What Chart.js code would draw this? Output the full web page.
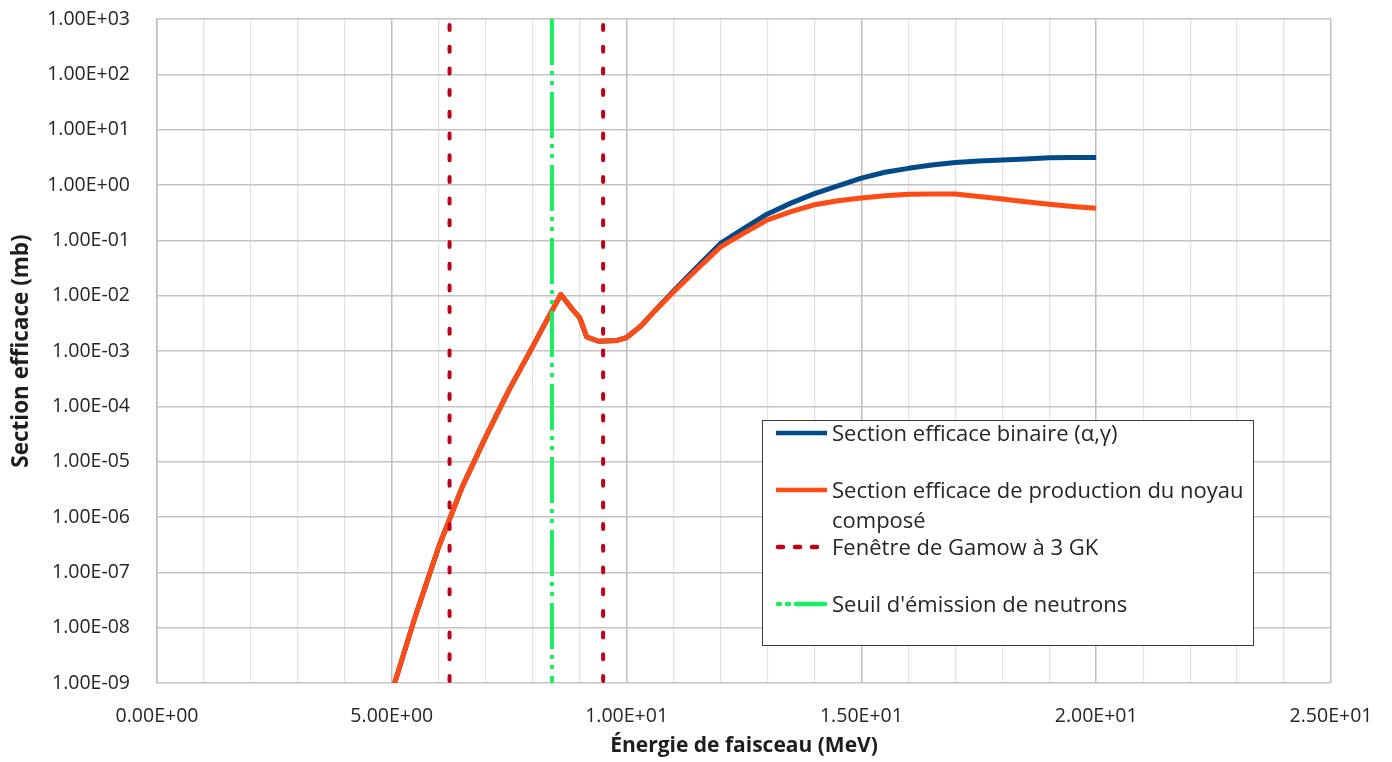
<!DOCTYPE html>
<html lang="fr">
<head>
<meta charset="utf-8">
<title>Section efficace en fonction de l'énergie de faisceau</title>
<script src="https://cdn.jsdelivr.net/npm/chart.js@4/dist/chart.umd.min.js"></script>
<style>
  html, body { margin: 0; padding: 0; background: #ffffff; }
  #wrap { position: relative; width: 1392px; height: 762px; overflow: hidden; }
  #chart { position: absolute; left: 0; top: 0; }
  #legend-box {
    position: absolute; left: 762px; top: 420px; width: 490px; height: 224px;
    border: 1.5px solid #3a3a3a; background: #ffffff;
  }
  .lg-sample { position: absolute; left: 774px; width: 56px; height: 10px; }
  .lg-text {
    position: absolute; left: 832px; white-space: nowrap;
    font-family: 'Open Sans', sans-serif; font-size: 22px; line-height: 30px; color: #262626;
  }
</style>
</head>
<body>
<div id="wrap">
  <canvas id="chart" width="1392" height="762"></canvas>
  <div id="legend-box"></div>
</div>
<script>
// Beam energy grid (MeV)
const energy = [5.0, 5.5, 6.0, 6.5, 7.0, 7.5, 8.0, 8.25, 8.6, 8.85, 9.0, 9.15, 9.4, 9.8, 10.0, 10.3, 10.6,
                11.0, 11.5, 12.0, 12.5, 13.0, 13.5, 14.0, 14.5, 15.0, 15.5, 16.0, 16.5, 17.0, 17.5, 18.0, 18.5, 19.0, 19.5, 20.0];

// Binary (alpha,gamma) cross section (mb)
const sigmaBinary = [6.8e-10, 1.6e-8, 2.9e-7, 3.5e-6, 2.8e-5, 2.0e-4, 1.2e-3, 3.0e-3, 1.05e-2, 5.6e-3, 4.0e-3, 1.8e-3, 1.5e-3, 1.55e-3, 1.75e-3, 2.8e-3, 5.3e-3,
                     1.22e-2, 3.3e-2, 8.8e-2, 0.165, 0.30, 0.47, 0.70, 0.96, 1.33, 1.70, 2.0, 2.3, 2.55, 2.72, 2.82, 2.95, 3.1, 3.15, 3.15];

// Compound nucleus production cross section (mb)
const sigmaCompound = [6.8e-10, 1.6e-8, 2.9e-7, 3.5e-6, 2.8e-5, 2.0e-4, 1.2e-3, 3.0e-3, 1.05e-2, 5.6e-3, 4.0e-3, 1.8e-3, 1.5e-3, 1.55e-3, 1.75e-3, 2.8e-3, 5.3e-3,
                       1.17e-2, 3.0e-2, 7.6e-2, 0.135, 0.235, 0.33, 0.44, 0.52, 0.58, 0.64, 0.68, 0.69, 0.69, 0.62, 0.56, 0.50, 0.45, 0.41, 0.38];

// Gamow window bounds at 3 GK and neutron emission threshold (MeV)
const gamowWindow = [6.23, 9.50];
const neutronThreshold = 8.41;

// Axis ticks
const xTickValues = [0, 5, 10, 15, 20, 25];
const yTickValues = [1e-9, 1e-8, 1e-7, 1e-6, 1e-5, 1e-4, 1e-3, 1e-2, 1e-1, 1e0, 1e1, 1e2, 1e3];

// Legend entries
const seriesNames = [
  'Section efficace binaire (α,γ)',
  'Section efficace de production du noyau composé',
  'Fenêtre de Gamow à 3 GK',
  "Seuil d'émission de neutrons"
];

const colors = { binary: '#034A8B', compound: '#FF4B14', gamow: '#C00016', threshold: '#17EE62' };
const gamowDash = [5, 16.7];
const thresholdDash = [46, 6, 4, 6, 4, 7];

function sci(v) {
  if (v === 0) return '0.00E+00';
  const e = Math.floor(Math.log10(Math.abs(v)) + 1e-9);
  const m = v / Math.pow(10, e);
  return m.toFixed(2) + 'E' + (e < 0 ? '-' : '+') + String(Math.abs(e)).padStart(2, '0');
}

const yMin = yTickValues[0];
const yMax = yTickValues[yTickValues.length - 1];
const toPoints = (xs, ys) => xs.map((x, i) => ({ x: x, y: ys[i] }));
const vertical = x => [{ x: x, y: yMax }, { x: x, y: yMin }];

function buildLegend() {
  const wrap = document.getElementById('wrap');
  const rows = [
    { y: 433, lines: [seriesNames[0]], color: colors.binary, dash: null, cap: 'butt' },
    { y: 489.5, lines: ['Section efficace de production du noyau', 'composé'], color: colors.compound, dash: null, cap: 'butt' },
    { y: 547, lines: [seriesNames[2]], color: colors.gamow, dash: '5 12', cap: 'round' },
    { y: 603.5, lines: [seriesNames[3]], color: colors.threshold, dash: '2 7 2 7 40 4', cap: 'round' }
  ];
  const NS = 'http://www.w3.org/2000/svg';
  rows.forEach(r => {
    const svg = document.createElementNS(NS, 'svg');
    svg.setAttribute('class', 'lg-sample');
    svg.setAttribute('width', '56');
    svg.setAttribute('height', '10');
    svg.style.top = (r.y - 5) + 'px';
    const ln = document.createElementNS(NS, 'line');
    ln.setAttribute('x1', r.cap === 'round' ? '4' : '2');
    ln.setAttribute('x2', r.cap === 'round' ? '51' : '53');
    ln.setAttribute('y1', '5');
    ln.setAttribute('y2', '5');
    ln.setAttribute('stroke', r.color);
    ln.setAttribute('stroke-width', '4.5');
    ln.setAttribute('stroke-linecap', r.cap);
    if (r.dash) ln.setAttribute('stroke-dasharray', r.dash);
    svg.appendChild(ln);
    wrap.appendChild(svg);
    const t = document.createElement('div');
    t.className = 'lg-text';
    t.style.top = (r.y - 16) + 'px';
    t.innerHTML = r.lines.map(s => s.replace(/&/g, '&amp;').replace(/</g, '&lt;')).join('<br>');
    wrap.appendChild(t);
  });
}

function draw() {
  Chart.defaults.font.family = "'Open Sans', sans-serif";
  Chart.defaults.color = '#262626';

  new Chart(document.getElementById('chart'), {
    type: 'line',
    data: {
      datasets: [
        {
          label: seriesNames[0],
          data: toPoints(energy, sigmaBinary),
          borderColor: colors.binary,
          borderWidth: 5,
          borderJoinStyle: 'round',
          pointRadius: 0,
          tension: 0,
          clip: 0,
          order: 2
        },
        {
          label: seriesNames[1],
          data: toPoints(energy, sigmaCompound),
          borderColor: colors.compound,
          borderWidth: 5,
          borderJoinStyle: 'round',
          pointRadius: 0,
          tension: 0,
          clip: 0,
          order: 1
        },
        {
          label: seriesNames[2],
          data: vertical(gamowWindow[0]),
          borderColor: colors.gamow,
          borderWidth: 4,
          borderDash: gamowDash,
          borderDashOffset: 15.7,
          borderCapStyle: 'round',
          pointRadius: 0,
          order: 0
        },
        {
          label: seriesNames[2],
          data: vertical(gamowWindow[1]),
          borderColor: colors.gamow,
          borderWidth: 4,
          borderDash: gamowDash,
          borderDashOffset: 15.7,
          borderCapStyle: 'round',
          pointRadius: 0,
          order: 0
        },
        {
          label: seriesNames[3],
          data: vertical(neutronThreshold),
          borderColor: colors.threshold,
          borderWidth: 4,
          borderDash: thresholdDash,
          borderCapStyle: 'butt',
          pointRadius: 0,
          order: 0
        }
      ]
    },
    options: {
      responsive: false,
      animation: false,
      events: [],
      layout: { padding: { top: 19, right: 61, bottom: 0, left: 0 } },
      plugins: { legend: { display: false }, tooltip: { enabled: false } },
      scales: {
        x: {
          type: 'linear',
          min: 0,
          max: 25,
          afterFit: s => { s.height = 79; s.paddingLeft = 0; s.paddingRight = 0; },
          ticks: {
            stepSize: 1,
            autoSkip: false,
            maxRotation: 0,
            padding: 22,
            font: { size: 19.5 },
            color: '#262626',
            callback: v => (xTickValues.includes(v) ? sci(v) : '')
          },
          grid: {
            drawTicks: false,
            color: c => (c.tick && c.tick.value % 5 === 0 ? '#BEBEBE' : '#E2E2E2'),
            lineWidth: c => (c.tick && c.tick.value % 5 === 0 ? 1.5 : 1.2)
          },
          border: { display: false },
          title: {
            display: true,
            text: 'Énergie de faisceau (MeV)',
            font: { size: 21, weight: 'bold' },
            color: '#1e1e1e',
            padding: { top: 0, bottom: 3 }
          }
        },
        y: {
          type: 'logarithmic',
          min: yMin,
          max: yMax,
          afterFit: s => { s.width = 157; s.paddingTop = 0; s.paddingBottom = 0; },
          afterBuildTicks: s => { s.ticks = yTickValues.map(v => ({ value: v })); },
          ticks: {
            autoSkip: false,
            padding: 27,
            font: { size: 19.5 },
            color: '#262626',
            callback: v => sci(v)
          },
          grid: { drawTicks: false, color: '#C4C4C4', lineWidth: 1.4 },
          border: { display: true, color: '#BEBEBE', width: 1.5 },
          title: {
            display: true,
            text: 'Section efficace (mb)',
            font: { size: 22.5, weight: 'bold' },
            color: '#1e1e1e',
            padding: { top: 8.5, bottom: 0 }
          }
        }
      }
    }
  });
  buildLegend();
}

Promise.all([
  document.fonts.load("19px 'Open Sans'"),
  document.fonts.load("bold 21px 'Open Sans'")
]).then(draw, draw);
</script>
</body>
</html>
